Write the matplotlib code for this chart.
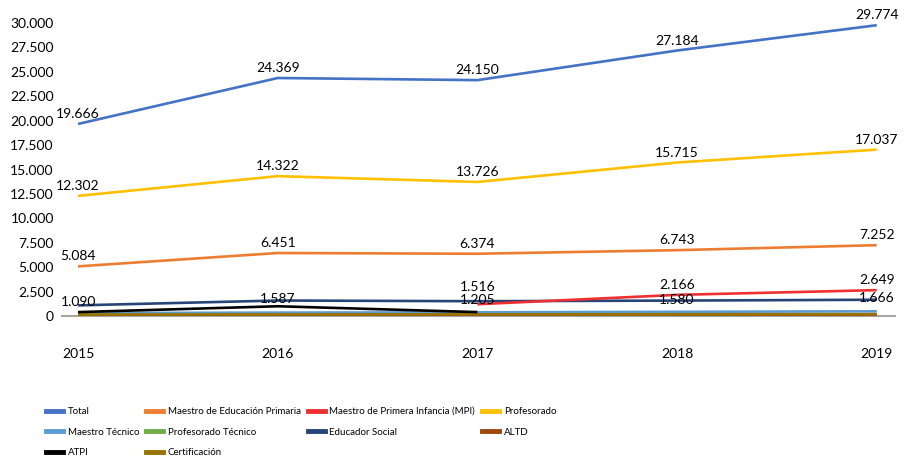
import matplotlib
matplotlib.use("Agg")
import matplotlib.pyplot as plt
from matplotlib.lines import Line2D

years = ["2015", "2016", "2017", "2018", "2019"]
total = [19666, 24369, 24150, 27184, 29774]
primaria = [5084, 6451, 6374, 6743, 7252]
mpi = [None, None, 1205, 2166, 2649]
profesorado = [12302, 14322, 13726, 15715, 17037]
maestro_tecnico = [300, 350, 380, 430, 480]
prof_tecnico = [120, 130, 140, 150, 160]
educador = [1090, 1587, 1516, 1580, 1666]
altd = [60, 70, 80, 90, 100]
atpi = [400, 1000, 400, None, None]
certificacion = [150, 160, 170, 180, 190]

yticks = [0, 2500, 5000, 7500, 10000, 12500, 15000, 17500, 20000, 22500, 25000, 27500, 30000]

# (name, values, colour, label pixel offsets above the point or None)
series = [
    ("Total", total, "#4472C4", [10, 10, 10, 10, 10]),
    ("Maestro de Educación Primaria", primaria, "#ED7D31", [10, 10, 10, 10, 10]),
    ("Maestro de Primera Infancia (MPI)", mpi, "#EE3030", [None, None, 4, 10, 10]),
    ("Profesorado", profesorado, "#FFC000", [10, 10, 10, 10, 10]),
    ("Maestro Técnico", maestro_tecnico, "#5B9BD5", None),
    ("Profesorado Técnico", prof_tecnico, "#70AD47", None),
    ("Educador Social", educador, "#264478", [3, 2, 14, 1, 2]),
    ("ALTD", altd, "#9E480E", None),
    ("ATPI", atpi, "#000000", None),
    ("Certificación", certificacion, "#997300", None),
]

plt.rcParams['font.family'] = ['Lato', 'DejaVu Sans']

fig = plt.figure(figsize=(9.13, 4.61), dpi=100)
ax = fig.add_axes([0.068, 0.3145, 0.912, 0.6356])

x = list(range(len(years)))
handles = {}
draw_order = [4, 5, 7, 9, 8, 6, 2, 1, 3, 0]
for i in draw_order:
    name, vals, col, offs = series[i]
    pts = [(xi, v, (offs[xi] if offs else None)) for xi, v in zip(x, vals) if v is not None]
    xs = [p[0] for p in pts]
    ys = [p[1] for p in pts]
    ln, = ax.plot(xs, ys, color=col, lw=1.9, solid_capstyle='butt', zorder=3)
    handles[name] = ln
    if offs:
        for xi, v, o in pts:
            if o is None:
                continue
            s = f"{v:,}".replace(",", ".")
            ax.annotate(s, (xi, v), xytext=(0, o * 0.72), textcoords='offset points',
                        ha='center', va='center', fontsize=10, color='#000000', zorder=5)

ax.set_xlim(-0.08, 4.09)
ax.set_ylim(0, 30000)
ax.set_yticks(yticks)
ax.set_yticklabels([f"{t:,}".replace(",", ".") for t in yticks], fontsize=10)
ax.set_xticks(x)
ax.set_xticklabels(years, fontsize=10)
ax.tick_params(axis='both', length=0)
ax.tick_params(axis='x', pad=23)
ax.tick_params(axis='y', pad=6)
for s in ['top', 'right', 'left']:
    ax.spines[s].set_visible(False)
ax.spines['bottom'].set_color('#A6A6A6')
ax.spines['bottom'].set_linewidth(1.5)

legend_order = ["Total", "Maestro de Educación Primaria", "Maestro de Primera Infancia (MPI)", "Profesorado",
                "Maestro Técnico", "Profesorado Técnico", "Educador Social", "ALTD",
                "ATPI", "Certificación"]
# matplotlib fills legend columns first; reorder so rows read as in the reference
ncol = 4
rows = 3
grid = [[None] * ncol for _ in range(rows)]
for k, n in enumerate(legend_order):
    grid[k // ncol][k % ncol] = n
hs, ls = [], []
for c in range(ncol):
    for r in range(rows):
        n = grid[r][c]
        if n is None:
            hs.append(Line2D([], [], color='none', lw=0))
            ls.append("")
        else:
            hs.append(Line2D([], [], color=handles[n].get_color(), lw=3.5))
            ls.append(n)
fig.legend(hs, ls, loc='upper left', bbox_to_anchor=(0.05, 0.117),
           bbox_transform=fig.transFigure, frameon=False, ncol=ncol,
           handlelength=1.8, handletextpad=0.45, columnspacing=0.7,
           labelspacing=1.2, borderaxespad=0, borderpad=0,
           prop={'size': 7})

fig.savefig("out.png", dpi=100)
